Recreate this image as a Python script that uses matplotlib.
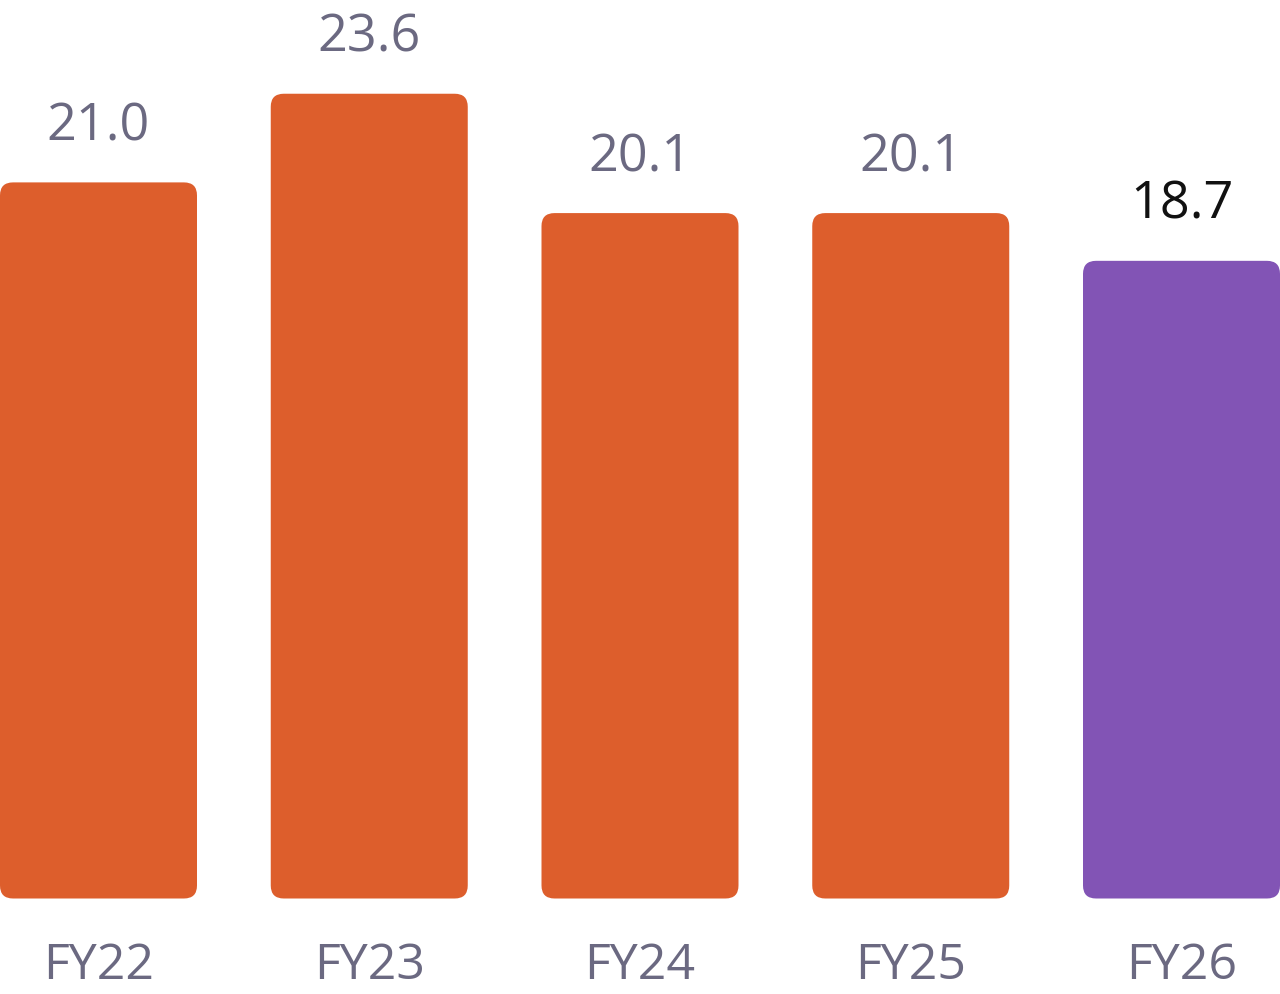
import matplotlib
matplotlib.use("Agg")
import matplotlib.pyplot as plt
from matplotlib.patches import FancyBboxPatch

categories = ["FY22", "FY23", "FY24", "FY25", "FY26"]
values = [21.0, 23.6, 20.1, 20.1, 18.7]
value_labels = ["21.0", "23.6", "20.1", "20.1", "18.7"]

ORANGE = "#DD5E2C"
PURPLE = "#8254B5"
GRAY = "#6B6981"
BLACK = "#111111"
bar_colors = [ORANGE, ORANGE, ORANGE, ORANGE, PURPLE]
label_colors = [GRAY, GRAY, GRAY, GRAY, BLACK]

plt.rcParams['font.family'] = ['Open Sans', 'DejaVu Sans']

W, H, DPI = 1280, 995, 100
fig = plt.figure(figsize=(W / DPI, H / DPI), dpi=DPI)
zero_px = 899.5
px_per_unit = 34.1
ax = fig.add_axes([0, (H - zero_px) / H, 1, zero_px / H])
width = 0.7276
ax.set_xlim(-width / 2, len(categories) - 1 + width / 2)
ax.set_ylim(0, zero_px / px_per_unit)

x_px_per_unit = W / (len(categories) - 1 + width)
radius_px = 13
rs = radius_px / x_px_per_unit
aspect = x_px_per_unit / px_per_unit

bars = ax.bar(range(len(categories)), values, width=width, color=bar_colors)
for b, c in zip(bars, bar_colors):
    b.set_visible(False)
    p = FancyBboxPatch((b.get_x(), b.get_y()), b.get_width(), b.get_height(),
                       boxstyle=f"round,pad=0,rounding_size={rs}",
                       mutation_aspect=aspect, facecolor=c, edgecolor="none")
    ax.add_patch(p)

for i, (v, lab, col) in enumerate(zip(values, value_labels, label_colors)):
    ax.annotate(lab, (i, v), xytext=(0, 43 * 72 / DPI), textcoords="offset points",
                ha="center", va="baseline", fontsize=37.5, color=col)

for i, cat in enumerate(categories):
    ax.annotate(cat, (i, 0), xytext=(0, -80 * 72 / DPI), textcoords="offset points",
                ha="center", va="baseline", fontsize=36, color=GRAY,
                annotation_clip=False)

ax.axis("off")
fig.savefig("out.png", dpi=DPI, facecolor="white")
